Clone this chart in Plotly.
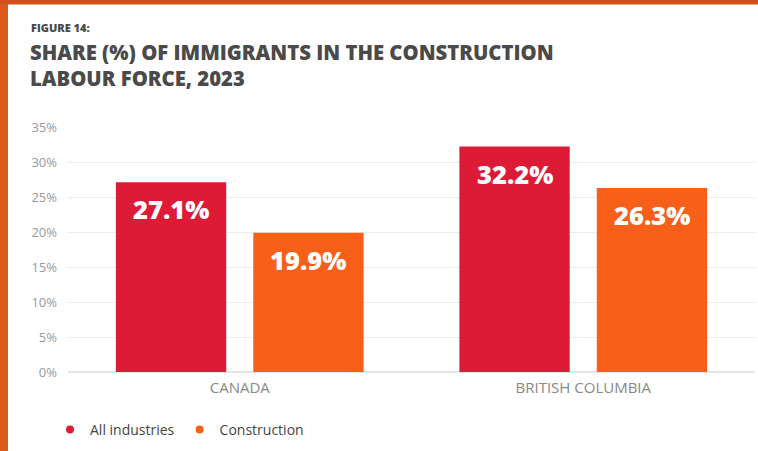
import plotly.graph_objects as go

regions = ["CANADA", "BRITISH COLUMBIA"]
all_industries = [27.1, 32.2]
construction = [19.9, 26.3]
series_names = ["All industries", "Construction"]
y_ticks = [0, 5, 10, 15, 20, 25, 30, 35]
y_tick_labels = ["0%", "5%", "10%", "15%", "20%", "25%", "30%", "35%"]
title_lines = ["SHARE (%) OF IMMIGRANTS IN THE CONSTRUCTION", "LABOUR FORCE, 2023"]

W, H = 758, 451
ML, MR, MT, MB = 68, 3, 127, 79
PW, PH = W - ML - MR, H - MT - MB

def px_x(x):
    return (x - ML) / PW

def px_y(y):
    return (H - MB - y) / PH

BARGAP = 0.2
BARGROUPGAP = 0.197
cat_px = PW / 2.0
slot_px = cat_px * (1 - BARGAP) / 2.0
offsets = [-slot_px / 2.0, slot_px / 2.0]

RED = "#DD1B37"
ORANGE = "#F8601A"
fig = go.Figure()
annotations = []
for i, (name, vals, col) in enumerate([(series_names[0], all_industries, RED), (series_names[1], construction, ORANGE)]):
    fig.add_trace(go.Bar(
        x=regions, y=vals, name=name, marker=dict(color=col, line=dict(width=0)),
        showlegend=False, hoverinfo="skip",
    ))
    fig.add_trace(go.Scatter(
        x=[None], y=[None], mode="markers", name=name,
        marker=dict(color=col, size=8, symbol="circle"),
    ))
    for r, v in zip(regions, vals):
        annotations.append(dict(
            x=r, y=v, xref="x", yref="y", text=f"{v:.1f}%", showarrow=False,
            xshift=offsets[i], yshift=-27, xanchor="center", yanchor="middle",
            font=dict(family="Open Sans", size=25.5, color="white", weight=800),
        ))

shapes = [
    dict(type="rect", xref="paper", yref="paper", x0=px_x(0), x1=px_x(8), y0=px_y(H), y1=px_y(0),
         fillcolor="#DE5A1C", line=dict(width=0), layer="above"),
    dict(type="rect", xref="paper", yref="paper", x0=px_x(0), x1=px_x(W), y0=px_y(4.5), y1=px_y(0),
         fillcolor="#D4501A", line=dict(width=0), layer="above"),
]

annotations += [
    dict(text="FIGURE 14:", xref="paper", yref="paper", x=px_x(30), y=px_y(36),
         xanchor="left", yanchor="bottom", showarrow=False, borderpad=0,
         font=dict(family="Open Sans", size=11, color="#4a4a4a", weight=800)),
    dict(text="<br>".join(title_lines), xref="paper", yref="paper", x=px_x(29), y=px_y(37),
         xanchor="left", yanchor="top", showarrow=False, align="left", borderpad=0,
         font=dict(family="Open Sans", size=20.3, color="#4a4a4a", weight=800)),
]

fig.update_layout(
    width=W, height=H, margin=dict(l=ML, r=MR, t=MT, b=MB),
    paper_bgcolor="white", plot_bgcolor="white",
    barmode="group", bargap=BARGAP, bargroupgap=BARGROUPGAP,
    shapes=shapes, annotations=annotations,
    legend=dict(orientation="h", x=px_x(50), y=px_y(430), xanchor="left", yanchor="middle",
                font=dict(family="Open Sans", size=14, color="#444"), itemwidth=30,
                bgcolor="rgba(0,0,0,0)"),
    xaxis=dict(range=[-0.5, 1.5], showgrid=False, showline=False, ticks="",
               tickfont=dict(family="Open Sans", size=15, color="#888"), ticklabelstandoff=5),
    yaxis=dict(range=[0, 35], tickvals=y_ticks, ticktext=y_tick_labels, showgrid=True,
               gridcolor="#ececec", gridwidth=1, zeroline=True, zerolinecolor="#e6e6e6",
               showline=False, ticks="", tickfont=dict(family="Open Sans", size=13, color="#999"),
               ticklabelstandoff=10),
)
fig.write_html("out.html", config={"displayModeBar": False},
               post_script="document.body.style.margin='0';document.body.style.overflow='hidden';")
